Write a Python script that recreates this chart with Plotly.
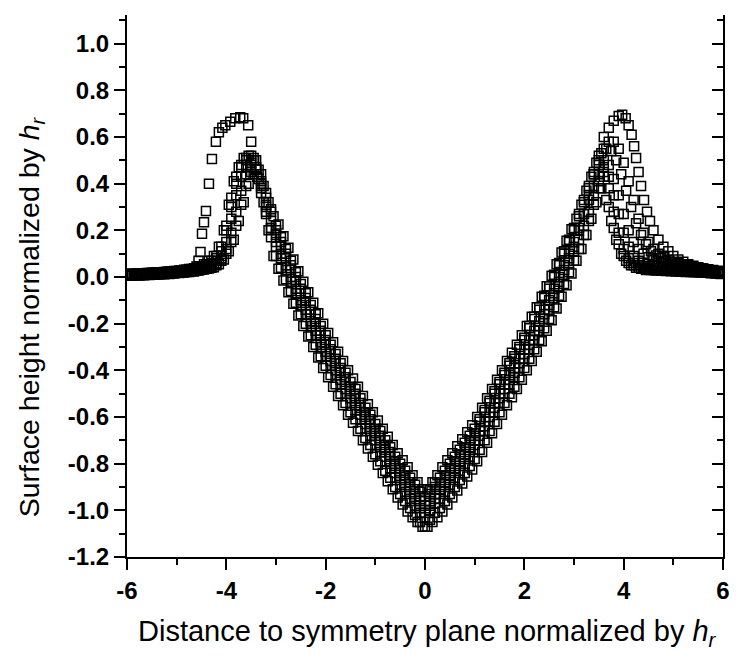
import plotly.graph_objects as go

# ---------------- data ----------------
X = [-6.0, -5.9, -5.8, -5.7, -5.6, -5.5, -5.4, -5.3, -5.2, -5.1,
     -5.0, -4.9, -4.8, -4.7, -4.6, -4.5, -4.4, -4.3, -4.2, -4.1,
     -4.0, -3.9, -3.8, -3.7, -3.6, -3.5, -3.4, -3.3, -3.2, -3.1,
     -3.0, -2.9, -2.8, -2.7, -2.6, -2.5, -2.4, -2.3, -2.2, -2.1,
     -2.0, -1.9, -1.8, -1.7, -1.6, -1.5, -1.4, -1.3, -1.2, -1.1,
     -1.0, -0.9, -0.8, -0.7, -0.6, -0.5, -0.4, -0.3, -0.2, -0.1,
     0.0, 0.1, 0.2, 0.3, 0.4, 0.5, 0.6, 0.7, 0.8, 0.9,
     1.0, 1.1, 1.2, 1.3, 1.4, 1.5, 1.6, 1.7, 1.8, 1.9,
     2.0, 2.1, 2.2, 2.3, 2.4, 2.5, 2.6, 2.7, 2.8, 2.9,
     3.0, 3.1, 3.2, 3.3, 3.4, 3.5, 3.6, 3.7, 3.8, 3.9,
     4.0, 4.1, 4.2, 4.3, 4.4, 4.5, 4.6, 4.7, 4.8, 4.9,
     5.0, 5.1, 5.2, 5.3, 5.4, 5.5, 5.6, 5.7, 5.8, 5.9,
     6.0]

Y_L1 = [0.012, 0.013, 0.014, 0.015, 0.016, 0.017, 0.018, 0.020, 0.022, 0.024, 0.026, 0.028, 0.031, 0.034, 0.038,
        0.043, 0.050, 0.060, 0.080, 0.110, 0.220, 0.340, 0.430, 0.480, 0.500, 0.500, 0.470, 0.410, 0.340, 0.280,
        0.22, 0.17, 0.12, 0.07, 0.02, -0.03, -0.07, -0.12, -0.16, -0.21, -0.25, -0.29, -0.33, -0.37, -0.41, -0.45,
        -0.48, -0.52, -0.56, -0.59, -0.63, -0.66, -0.70, -0.73, -0.77, -0.80, -0.83, -0.86, -0.89, -0.92, -0.94,
        -0.91, -0.88, -0.86, -0.83, -0.80, -0.77, -0.74, -0.71, -0.68, -0.65, -0.61, -0.57, -0.53, -0.49, -0.45,
        -0.41, -0.37, -0.34, -0.30, -0.26, -0.22, -0.18, -0.14, -0.09, -0.05, 0.00, 0.05, 0.10, 0.15, 0.20,
        0.26, 0.32, 0.38, 0.44, 0.48, 0.50, 0.48, 0.42, 0.35, 0.27, 0.20, 0.15, 0.12, 0.10, 0.085, 0.075,
        0.068, 0.062, 0.057, 0.053, 0.049, 0.045, 0.042, 0.039, 0.036, 0.033, 0.030, 0.027, 0.025, 0.022]

Y_L2 = [0.010, 0.011, 0.012, 0.013, 0.014, 0.015, 0.016, 0.017, 0.019, 0.021, 0.023, 0.025, 0.027, 0.030, 0.033,
        0.037, 0.043, 0.050, 0.070, 0.090, 0.150, 0.250, 0.350, 0.430, 0.480, 0.490, 0.460, 0.390, 0.310, 0.240,
        0.18, 0.13, 0.08, 0.03, -0.02, -0.07, -0.11, -0.16, -0.20, -0.25, -0.29, -0.33, -0.37, -0.41, -0.45, -0.49,
        -0.52, -0.56, -0.60, -0.63, -0.67, -0.70, -0.74, -0.77, -0.81, -0.84, -0.87, -0.90, -0.93, -0.96, -0.98,
        -0.96, -0.93, -0.91, -0.88, -0.85, -0.82, -0.79, -0.76, -0.73, -0.70, -0.66, -0.62, -0.58, -0.54, -0.50,
        -0.46, -0.42, -0.39, -0.35, -0.31, -0.27, -0.23, -0.19, -0.14, -0.10, -0.05, 0.00, 0.05, 0.10, 0.15,
        0.21, 0.27, 0.33, 0.39, 0.44, 0.47, 0.43, 0.35, 0.27, 0.19, 0.13, 0.09, 0.07, 0.06, 0.055, 0.05,
        0.047, 0.045, 0.043, 0.041, 0.039, 0.037, 0.035, 0.033, 0.031, 0.029, 0.027, 0.025, 0.023, 0.021]

Y_L3 = [0.008, 0.009, 0.010, 0.011, 0.012, 0.013, 0.014, 0.015, 0.016, 0.018, 0.020, 0.022, 0.024, 0.027, 0.030,
        0.034, 0.039, 0.045, 0.060, 0.080, 0.120, 0.190, 0.280, 0.370, 0.440, 0.470, 0.460, 0.400, 0.300, 0.210,
        0.13, 0.08, 0.03, -0.02, -0.07, -0.12, -0.16, -0.21, -0.25, -0.30, -0.34, -0.38, -0.42, -0.46, -0.50, -0.54,
        -0.57, -0.61, -0.65, -0.68, -0.72, -0.75, -0.79, -0.82, -0.86, -0.89, -0.92, -0.95, -0.98, -1.01, -1.03,
        -1.00, -0.97, -0.95, -0.92, -0.89, -0.86, -0.83, -0.80, -0.77, -0.74, -0.70, -0.66, -0.62, -0.58, -0.54,
        -0.50, -0.46, -0.43, -0.39, -0.35, -0.31, -0.27, -0.23, -0.18, -0.14, -0.09, -0.04, 0.01, 0.06, 0.11,
        0.16, 0.22, 0.28, 0.35, 0.41, 0.45, 0.38, 0.28, 0.19, 0.12, 0.08, 0.06, 0.05, 0.045, 0.04, 0.04,
        0.038, 0.036, 0.035, 0.034, 0.032, 0.031, 0.029, 0.028, 0.026, 0.025, 0.023, 0.021, 0.020, 0.018]

Y_L4 = [0.006, 0.007, 0.008, 0.009, 0.010, 0.011, 0.012, 0.013, 0.014, 0.016, 0.018, 0.020, 0.022, 0.025, 0.028,
        0.031, 0.035, 0.040, 0.050, 0.070, 0.100, 0.150, 0.220, 0.310, 0.390, 0.450, 0.460, 0.380, 0.270, 0.170,
        0.09, 0.04, -0.01, -0.06, -0.11, -0.16, -0.20, -0.25, -0.29, -0.34, -0.38, -0.42, -0.46, -0.50, -0.54, -0.58,
        -0.61, -0.65, -0.69, -0.72, -0.76, -0.79, -0.83, -0.86, -0.90, -0.93, -0.96, -0.99, -1.02, -1.05, -1.07,
        -1.04, -1.01, -0.99, -0.96, -0.93, -0.90, -0.87, -0.84, -0.81, -0.78, -0.74, -0.70, -0.66, -0.62, -0.58,
        -0.54, -0.50, -0.47, -0.43, -0.39, -0.35, -0.31, -0.27, -0.22, -0.18, -0.13, -0.08, -0.03, 0.02, 0.07,
        0.12, 0.18, 0.24, 0.31, 0.38, 0.43, 0.30, 0.21, 0.14, 0.09, 0.06, 0.05, 0.04, 0.035, 0.035, 0.03,
        0.030, 0.029, 0.028, 0.027, 0.026, 0.025, 0.024, 0.022, 0.021, 0.020, 0.018, 0.017, 0.015, 0.014]

Y_M = [0.011, 0.012, 0.013, 0.014, 0.015, 0.016, 0.017, 0.019, 0.021, 0.023, 0.025, 0.027, 0.030, 0.033, 0.037,
       0.045, 0.055, 0.070, 0.090, 0.130, 0.200, 0.300, 0.400, 0.470, 0.510, 0.520, 0.500, 0.440, 0.360, 0.290,
       0.20, 0.15, 0.10, 0.05, 0.00, -0.05, -0.09, -0.14, -0.18, -0.23, -0.27, -0.31, -0.35, -0.39, -0.43, -0.47,
       -0.50, -0.54, -0.58, -0.61, -0.65, -0.68, -0.72, -0.75, -0.79, -0.82, -0.85, -0.88, -0.91, -0.94, -0.96,
       -0.93, -0.90, -0.88, -0.85, -0.82, -0.79, -0.76, -0.73, -0.70, -0.67, -0.62, -0.58, -0.54, -0.50, -0.46,
       -0.42, -0.38, -0.35, -0.31, -0.27, -0.21, -0.17, -0.13, -0.08, -0.04, 0.01, 0.06, 0.11, 0.16, 0.21,
       0.27, 0.33, 0.39, 0.45, 0.50, 0.55, 0.58, 0.58, 0.55, 0.49, 0.41, 0.33, 0.25, 0.19, 0.15, 0.12,
       0.100, 0.085, 0.075, 0.065, 0.060, 0.055, 0.050, 0.045, 0.041, 0.037, 0.033, 0.030, 0.027, 0.024]

# second sampling grid (half a step shifted) for the outer and inner edge profiles
X2 = [-5.95, -5.85, -5.75, -5.65, -5.55, -5.45, -5.35, -5.25, -5.15, -5.05,
      -4.95, -4.85, -4.75, -4.65, -4.55, -4.45, -4.35, -4.25, -4.15, -4.05,
      -3.95, -3.85, -3.75, -3.65, -3.55, -3.45, -3.35, -3.25, -3.15, -3.05,
      -2.95, -2.85, -2.75, -2.65, -2.55, -2.45, -2.35, -2.25, -2.15, -2.05,
      -1.95, -1.85, -1.75, -1.65, -1.55, -1.45, -1.35, -1.25, -1.15, -1.05,
      -0.95, -0.85, -0.75, -0.65, -0.55, -0.45, -0.35, -0.25, -0.15, -0.05,
      0.05, 0.15, 0.25, 0.35, 0.45, 0.55, 0.65, 0.75, 0.85, 0.95,
      1.05, 1.15, 1.25, 1.35, 1.45, 1.55, 1.65, 1.75, 1.85, 1.95,
      2.05, 2.15, 2.25, 2.35, 2.45, 2.55, 2.65, 2.75, 2.85, 2.95,
      3.05, 3.15, 3.25, 3.35, 3.45, 3.55, 3.65, 3.75, 3.85, 3.95,
      4.05, 4.15, 4.25, 4.35, 4.45, 4.55, 4.65, 4.75, 4.85, 4.95,
      5.05, 5.15, 5.25, 5.35, 5.45, 5.55, 5.65, 5.75, 5.85, 5.95]

Y_E1 = [0.013, 0.014, 0.015, 0.016, 0.017, 0.018, 0.020, 0.022, 0.024, 0.026, 0.028, 0.031, 0.034, 0.038,
        0.045, 0.055, 0.070, 0.090, 0.130, 0.200, 0.310, 0.410, 0.470, 0.510, 0.520, 0.510, 0.460, 0.390, 0.320, 0.260,
        0.225, 0.175, 0.125, 0.075, 0.025, -0.02, -0.065, -0.11, -0.155, -0.20, -0.24, -0.28, -0.32, -0.36, -0.40,
        -0.435, -0.47, -0.51, -0.545, -0.58, -0.615, -0.65, -0.685, -0.72, -0.755, -0.785, -0.815, -0.85, -0.88, -0.91,
        -0.91, -0.88, -0.85, -0.815, -0.785, -0.755, -0.725, -0.695, -0.665, -0.635, -0.60, -0.56, -0.52, -0.48, -0.44,
        -0.40, -0.36, -0.325, -0.29, -0.25, -0.21, -0.17, -0.13, -0.085, -0.04, 0.005, 0.055, 0.105, 0.155, 0.205,
        0.25, 0.31, 0.37, 0.43, 0.49, 0.53, 0.55, 0.54, 0.50, 0.44, 0.37, 0.30, 0.23, 0.18, 0.14, 0.11,
        0.092, 0.080, 0.070, 0.062, 0.056, 0.051, 0.046, 0.042, 0.038, 0.034, 0.031, 0.028, 0.025, 0.023]

Y_E2 = [0.005, 0.006, 0.007, 0.008, 0.009, 0.010, 0.011, 0.012, 0.013, 0.015, 0.017, 0.019, 0.021, 0.024,
        0.028, 0.032, 0.036, 0.042, 0.055, 0.075, 0.110, 0.160, 0.240, 0.320, 0.400, 0.440, 0.420, 0.320, 0.200, 0.090,
        0.035, -0.015, -0.065, -0.115, -0.165, -0.21, -0.255, -0.30, -0.345, -0.39, -0.43, -0.47, -0.51, -0.55, -0.59,
        -0.625, -0.66, -0.70, -0.735, -0.77, -0.805, -0.84, -0.875, -0.91, -0.945, -0.975, -1.005, -1.03, -1.05, -1.07,
        -1.07, -1.05, -1.03, -1.005, -0.975, -0.945, -0.915, -0.885, -0.855, -0.825, -0.79, -0.75, -0.71, -0.67, -0.63,
        -0.59, -0.55, -0.515, -0.48, -0.44, -0.40, -0.36, -0.32, -0.275, -0.23, -0.185, -0.135, -0.085, -0.035, 0.015,
        0.07, 0.12, 0.18, 0.25, 0.32, 0.38, 0.33, 0.24, 0.16, 0.10, 0.07, 0.05, 0.04, 0.035, 0.03, 0.03,
        0.028, 0.027, 0.026, 0.025, 0.024, 0.023, 0.022, 0.021, 0.020, 0.019, 0.018, 0.016, 0.015, 0.013]

# high-rim profile, sampled more finely on the steep rims
X_H = [-6.0, -5.9, -5.8, -5.7, -5.6, -5.5, -5.4, -5.3, -5.2, -5.1, -5.0, -4.9, -4.8, -4.7,
       -4.6, -4.56, -4.52, -4.49, -4.45, -4.41, -4.35, -4.29, -4.21, -4.15,
       -4.08, -4.02, -3.92, -3.82, -3.72, -3.66, -3.56, -3.5, -3.44, -3.38, -3.3, -3.2, -3.1,
       -3.0, -2.9, -2.8, -2.7, -2.6, -2.5, -2.4, -2.3, -2.2, -2.1,
       -2.0, -1.9, -1.8, -1.7, -1.6, -1.5, -1.4, -1.3, -1.2, -1.1,
       -1.0, -0.9, -0.8, -0.7, -0.6, -0.5, -0.4, -0.3, -0.2, -0.1,
       0.0, 0.1, 0.2, 0.3, 0.4, 0.5, 0.6, 0.7, 0.8, 0.9,
       1.0, 1.1, 1.2, 1.3, 1.4, 1.5, 1.6, 1.7, 1.8, 1.9,
       2.0, 2.1, 2.2, 2.3, 2.4, 2.5, 2.6, 2.7, 2.8, 2.9, 3.0,
       3.1, 3.2, 3.3, 3.4, 3.5, 3.6, 3.7, 3.8, 3.9, 3.97,
       4.04, 4.1, 4.16, 4.21, 4.25, 4.3, 4.35, 4.41, 4.47, 4.53,
       4.6, 4.7, 4.8, 4.9, 5.0, 5.1, 5.2, 5.3, 5.4, 5.5,
       5.6, 5.7, 5.8, 5.9, 6.0]
Y_H = [0.013, 0.014, 0.015, 0.016, 0.017, 0.018, 0.019, 0.020, 0.021, 0.022, 0.023, 0.025, 0.027, 0.030,
       0.045, 0.070, 0.107, 0.185, 0.235, 0.283, 0.400, 0.506, 0.580, 0.620,
       0.640, 0.650, 0.665, 0.680, 0.685, 0.680, 0.650, 0.580, 0.500, 0.430, 0.360, 0.280, 0.210,
       0.15, 0.10, 0.05, 0.00, -0.05, -0.10, -0.14, -0.19, -0.23, -0.28,
       -0.32, -0.36, -0.40, -0.44, -0.48, -0.52, -0.55, -0.59, -0.63, -0.66,
       -0.70, -0.73, -0.77, -0.80, -0.84, -0.87, -0.90, -0.93, -0.96, -0.99,
       -1.01, -0.98, -0.95, -0.93, -0.90, -0.87, -0.84, -0.81, -0.78, -0.75,
       -0.72, -0.68, -0.64, -0.60, -0.56, -0.52, -0.48, -0.44, -0.41, -0.37,
       -0.33, -0.29, -0.25, -0.21, -0.16, -0.12, -0.07, -0.02, 0.03, 0.08, 0.13,
       0.20, 0.27, 0.35, 0.44, 0.52, 0.60, 0.64, 0.67, 0.69, 0.695,
       0.68, 0.65, 0.61, 0.56, 0.51, 0.45, 0.39, 0.33, 0.28, 0.24,
       0.20, 0.16, 0.13, 0.11, 0.09, 0.075, 0.065, 0.055, 0.048, 0.042,
       0.037, 0.033, 0.029, 0.025, 0.022]

X_TICKS = [-6, -4, -2, 0, 2, 4, 6]
X_TICK_LABELS = ["-6", "-4", "-2", "0", "2", "4", "6"]
Y_TICKS = [-1.2, -1.0, -0.8, -0.6, -0.4, -0.2, 0.0, 0.2, 0.4, 0.6, 0.8, 1.0]
Y_TICK_LABELS = ["-1.2", "-1.0", "-0.8", "-0.6", "-0.4", "-0.2", "0.0", "0.2", "0.4", "0.6", "0.8", "1.0"]

X_TITLE = "Distance to symmetry plane normalized by <i>h</i><sub><i>r</i></sub>"
Y_TITLE = "Surface height normalized by <i>h</i><sub><i>r</i></sub>"

for ys in (Y_L1, Y_L2, Y_L3, Y_L4, Y_M):
    assert len(ys) == len(X), len(ys)
for ys in (Y_E1, Y_E2):
    assert len(ys) == len(X2), len(ys)
assert len(X_H) == len(Y_H), (len(X_H), len(Y_H))

# ---------------- figure ----------------
FONT = "Liberation Sans, Arial, Helvetica, sans-serif"
marker = dict(symbol="square-open", size=9, color="black", line=dict(width=1.5, color="black"))

fig = go.Figure()
for xs, ys in ((X, Y_L1), (X, Y_L2), (X, Y_L3), (X, Y_L4), (X, Y_M),
               (X2, Y_E1), (X2, Y_E2), (X_H, Y_H)):
    fig.add_trace(go.Scatter(x=xs, y=ys, mode="markers", marker=marker,
                             showlegend=False, hoverinfo="x+y"))
# empty trace so the right-hand frame axis is drawn
fig.add_trace(go.Scatter(x=[], y=[], yaxis="y2", showlegend=False))

YR = [-1.2, 1.123]
tickfont = dict(family=FONT, size=24, color="black", weight="bold")

fig.update_layout(
    width=742, height=664,
    margin=dict(l=127, r=15, t=15, b=107),
    paper_bgcolor="white", plot_bgcolor="white",
    xaxis=dict(range=[-6, 6], tickmode="array", tickvals=X_TICKS, ticktext=X_TICK_LABELS,
               ticks="outside", ticklen=11, tickwidth=2, tickcolor="black",
               showline=True, linewidth=2, linecolor="black", showgrid=False, zeroline=False,
               minor=dict(tickmode="linear", tick0=0, dtick=1, ticks="outside",
                          ticklen=6, tickwidth=2, tickcolor="black"),
               tickfont=tickfont),
    yaxis=dict(range=YR, tickmode="array", tickvals=Y_TICKS, ticktext=Y_TICK_LABELS,
               ticks="outside", ticklen=11, tickwidth=2, tickcolor="black",
               showline=True, linewidth=2, linecolor="black", showgrid=False, zeroline=False,
               minor=dict(tickmode="linear", tick0=0, dtick=0.1, ticks="outside",
                          ticklen=6, tickwidth=2, tickcolor="black"),
               tickfont=tickfont),
    yaxis2=dict(range=YR, overlaying="y", side="right", tickmode="array", tickvals=Y_TICKS,
                showticklabels=False, ticks="inside", ticklen=11, tickwidth=2, tickcolor="black",
                showline=True, linewidth=2, linecolor="black", showgrid=False, zeroline=False,
                minor=dict(tickmode="linear", tick0=0, dtick=0.1, ticks="inside",
                           ticklen=6, tickwidth=2, tickcolor="black")),
    annotations=[
        dict(text=X_TITLE, xref="paper", yref="paper", x=0.505, y=-0.140,
             xanchor="center", yanchor="middle", showarrow=False,
             font=dict(family=FONT, size=29, color="black")),
        dict(text=Y_TITLE, xref="paper", yref="paper", x=-0.162, y=0.443,
             xanchor="center", yanchor="middle", textangle=-90, showarrow=False,
             font=dict(family=FONT, size=28.5, color="black")),
    ],
)

fig.write_html("out.html")
